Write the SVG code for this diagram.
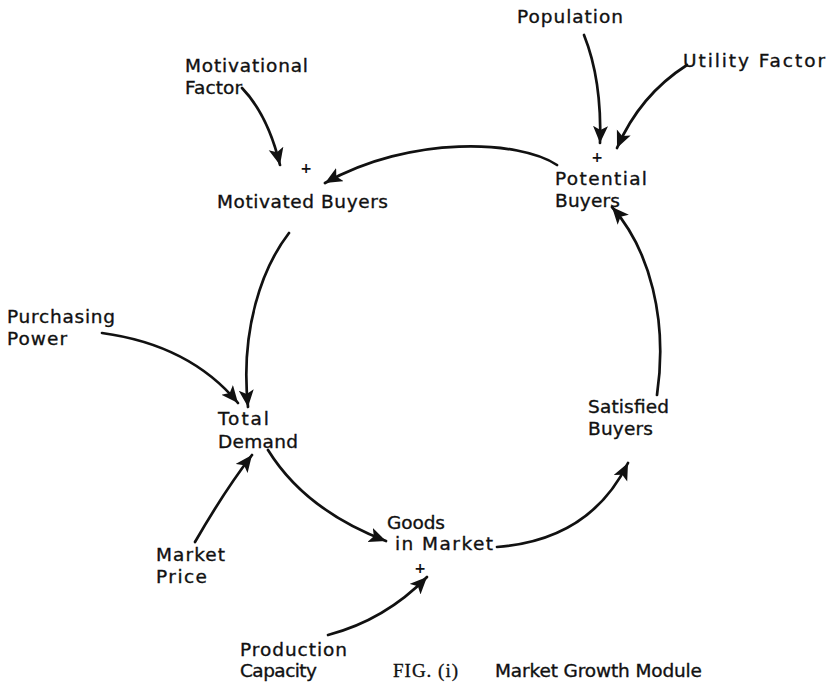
<svg xmlns="http://www.w3.org/2000/svg" width="830" height="684" viewBox="0 0 830 684">
<style>
.t{font-family:"DejaVu Sans","Liberation Sans",sans-serif;font-size:18.5px;fill:#111;stroke:#111;stroke-width:0.35}
.s{font-family:"Liberation Serif",serif;font-size:19px;fill:#111;stroke:#111;stroke-width:0.3}
.p{font-family:"DejaVu Sans",sans-serif;font-size:14px;font-weight:bold;fill:#111;text-anchor:middle}
.c{fill:none;stroke:#111;stroke-width:2.7;stroke-linecap:round;marker-end:url(#ah)}
</style>
<defs>
<marker id="ah" markerUnits="userSpaceOnUse" markerWidth="19" markerHeight="16" refX="17" refY="7.5" orient="auto">
<path d="M0,0 L17,7.5 L0,15 L4,7.5 z" fill="#111"/>
</marker>
</defs>
<rect width="830" height="684" fill="#fff"/>
<g id="connectors">
<path class="c" d="M242,88 Q268,115 280,165"/>
<path class="c" d="M584,35 Q602,80 600,143"/>
<path class="c" d="M687,65 Q640,95 617,148"/>
<path class="c" d="M557,165 C520,140 410,135 325,183"/>
<path class="c" d="M289,233 C262,268 240,330 248,407"/>
<path class="c" d="M102,333 Q190,345 238,403"/>
<path class="c" d="M195,542 Q225,490 252,455"/>
<path class="c" d="M268,450 Q305,510 386,541"/>
<path class="c" d="M497,547 Q590,540 628,463"/>
<path class="c" d="M657,395 C668,320 650,250 612,207"/>
<path class="c" d="M328,635 Q385,620 427,577"/>
</g>
<g id="population"><text class="t" x="517" y="23" textLength="106" lengthAdjust="spacing">Population</text></g>
<g id="utility-factor"><text class="t" x="683" y="67" textLength="142" lengthAdjust="spacing">Utility Factor</text></g>
<g id="motivational-factor"><text class="t" x="185" y="72" textLength="123" lengthAdjust="spacing">Motivational</text><text class="t" x="185" y="94" textLength="57" lengthAdjust="spacing">Factor</text></g>
<g id="motivated-buyers"><text class="p" x="306" y="173">+</text><text class="t" x="217" y="208" textLength="171" lengthAdjust="spacing">Motivated Buyers</text></g>
<g id="potential-buyers"><text class="p" x="597" y="162">+</text><text class="t" x="555" y="185" textLength="92" lengthAdjust="spacing">Potential</text><text class="t" x="555" y="207" textLength="65" lengthAdjust="spacing">Buyers</text></g>
<g id="purchasing-power"><text class="t" x="7" y="323" textLength="108" lengthAdjust="spacing">Purchasing</text><text class="t" x="7" y="345" textLength="60" lengthAdjust="spacing">Power</text></g>
<g id="total-demand"><text class="t" x="218" y="425" textLength="51" lengthAdjust="spacing">Total</text><text class="t" x="218" y="448" textLength="80" lengthAdjust="spacing">Demand</text></g>
<g id="satisfied-buyers"><text class="t" x="588" y="413" textLength="81" lengthAdjust="spacing">Satisfied</text><text class="t" x="588" y="435" textLength="65" lengthAdjust="spacing">Buyers</text></g>
<g id="goods-in-market"><text class="t" x="387" y="529" textLength="58" lengthAdjust="spacing">Goods</text><text class="t" x="395" y="550" textLength="98" lengthAdjust="spacing">in Market</text><text class="p" x="420" y="573">+</text></g>
<g id="market-price"><text class="t" x="156" y="561" textLength="69" lengthAdjust="spacing">Market</text><text class="t" x="156" y="583" textLength="51" lengthAdjust="spacing">Price</text></g>
<g id="production-capacity"><text class="t" x="240" y="656" textLength="107" lengthAdjust="spacing">Production</text><text class="t" x="240" y="677" textLength="77" lengthAdjust="spacing">Capacity</text></g>
<g id="caption"><text class="s" x="393" y="677" textLength="65" lengthAdjust="spacing">FIG. (i)</text><text class="t" x="495" y="677" textLength="207" lengthAdjust="spacing">Market Growth Module</text></g>
</svg>
